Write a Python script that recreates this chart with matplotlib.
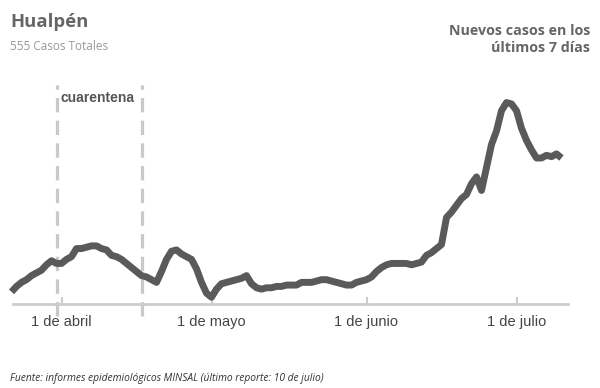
import matplotlib
matplotlib.use("Agg")
import matplotlib.pyplot as plt
import matplotlib.dates as mdates
import pandas as pd
import numpy as np

# Data: new cases in the last 7 days, Hualpén, 22 Mar – 10 Jul 2020
start_date = "2020-03-22"
end_date = "2020-07-10"
cases_7d = [
    9, 13, 16, 18, 21, 23, 25, 29, 32, 30,          # 22-31 Mar
    30, 33, 35, 41, 41, 42, 43, 43, 41, 40,          # 1-10 Apr
    36, 35, 33, 30, 27, 24, 21, 20, 18, 16,          # 11-20 Apr
    24, 33, 39, 40, 37, 35, 33, 26, 16, 8,           # 21-30 Apr
    5, 11, 15, 16, 17, 18, 19, 21, 15, 12,           # 1-10 May
    11, 12, 12, 13, 13, 14, 14, 14, 16, 16,          # 11-20 May
    16, 17, 18, 18, 17, 16, 15, 14, 14, 16, 17,      # 21-31 May
    18, 20, 24, 27, 29, 30, 30, 30, 30, 29,          # 1-10 Jun
    30, 31, 36, 38, 41, 44, 64, 68, 73, 78,          # 11-20 Jun
    81, 89, 94, 84, 101, 118, 128, 143, 149, 148,    # 21-30 Jun
    143, 130, 121, 114, 108, 108, 110, 109, 111, 108 # 1-10 Jul
]
quarantine = ["2020-03-31", "2020-04-17"]
tick_dates = ["2020-04-01", "2020-05-01", "2020-06-01", "2020-07-01"]
tick_labels = ["1 de abril", "1 de mayo", "1 de junio", "1 de julio"]

dates = pd.date_range(start_date, end_date, freq="D")

fig = plt.figure(figsize=(6, 3.88), dpi=100)
ax = fig.add_axes([13/600, (388-304)/388, (568-13)/600, (304-85)/388])

ax.plot(dates, cases_7d, color="#5a5a5a", lw=5, solid_capstyle="butt",
        solid_joinstyle="round", clip_on=False, zorder=3)

for q in quarantine:
    ax.axvline(pd.Timestamp(q), ymin=-0.055, ymax=1.0, color="#c9c9c9", lw=2.3,
               dashes=(4.5, 2.6), clip_on=False, zorder=1)

x0 = mdates.date2num(pd.Timestamp(start_date)) + 0.3
x1 = mdates.date2num(pd.Timestamp(end_date)) + 1.3
ax.set_xlim(x0, x1)
ax.set_ylim(0, 162)

for s in ["top", "right", "left"]:
    ax.spines[s].set_visible(False)
ax.spines["bottom"].set_color("#cccccc")
ax.spines["bottom"].set_linewidth(2)
ax.set_yticks([])
ax.set_xticks([pd.Timestamp(t) for t in tick_dates])
ax.set_xticklabels(tick_labels, family="Liberation Sans", fontsize=10.5, color="#444444")
ax.tick_params(axis="x", direction="in", length=5, width=1.5, color="#cccccc", pad=8)

ax.text(pd.Timestamp(quarantine[0]) + pd.Timedelta(days=0.8), 152.5, "cuarentena",
        family="Liberation Sans", fontweight="bold", fontsize=10, color="#555555",
        va="center", ha="left")

fig.text(10/600, 1 - 22/388, "Hualpén", family="Open Sans", fontweight="bold",
         fontsize=13.3, color="#666666", va="center", ha="left")
fig.text(10/600, 1 - 47/388, "555 Casos Totales", family="Open Sans",
         fontsize=8.5, color="#999999", va="center", ha="left")
fig.text(590/600, 1 - 39.5/388, "Nuevos casos en los\núltimos 7 días", family="Open Sans",
         fontweight="bold", fontsize=10.3, color="#666666", va="center", ha="right",
         linespacing=1.3, multialignment="right")
fig.text(10/600, 1 - 378/388,
         "Fuente: informes epidemiológicos MINSAL (último reporte: 10 de julio)",
         family="Open Sans", style="italic", fontsize=7.4, color="#333333",
         va="center", ha="left")

fig.savefig("out.png", dpi=100, facecolor="white")
